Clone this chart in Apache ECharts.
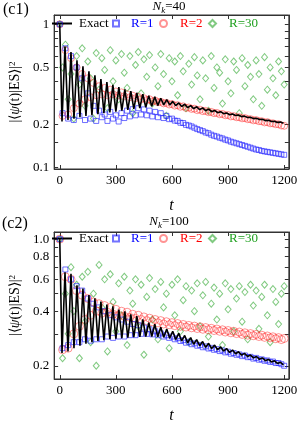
<!DOCTYPE html>
<html><head><meta charset="utf-8">
<script src="https://cdn.jsdelivr.net/npm/echarts@6/dist/echarts.min.js"></script>
<style>html,body{margin:0;padding:0;background:#fff}#c{width:300px;height:425px}</style>
</head><body><div id="c"></div>
<script>
// ---------- data ----------
const tScatter = [0,15,30,45,60,75,90,105,120,135,150,165,180,195,210,225,240,255,270,285,
  300,315,330,345,360,375,390,405,420,435,450,465,480,495,510,525,540,555,570,585,
  600,615,630,645,660,675,690,705,720,735,750,765,780,795,810,825,840,855,870,885,
  900,915,930,945,960,975,990,1005,1020,1035,1050,1065,1080,1095,1110,1125,1140,1155,1170,1185,1200];

const tExact = [0,12,28,44,60,76,92,108,124,140,156,172,188,204,220,236,252,268,284,300,
  316,332,348,364,380,396,412,428,444,460,476,492,508,524,540,556,572,588,604,620,
  636,652,668,684,700,716,732,748,764,780,796,812,828,844,860,876,892,908,924,940,
  956,972,988,1004,1020,1036,1052,1068,1084,1100,1116,1132,1148,1164,1180,1196];

// panel c1 (N_k = 40)
const exactC1 = [1.0,0.21,0.70,0.215,0.64,0.22,0.56,0.225,0.51,0.23,0.47,0.232,0.44,0.236,0.415,0.24,0.395,0.243,0.378,0.246,
  0.365,0.25,0.352,0.253,0.342,0.257,0.333,0.26,0.325,0.264,0.318,0.268,0.312,0.271,0.305,0.274,0.298,0.274,0.29,0.271,
  0.283,0.267,0.277,0.262,0.271,0.258,0.266,0.254,0.261,0.25,0.256,0.246,0.251,0.242,0.246,0.238,0.241,0.234,0.237,0.231,
  0.233,0.227,0.229,0.224,0.225,0.22,0.221,0.217,0.218,0.213,0.214,0.21,0.211,0.207,0.208,0.204];
const r1C1 = [1.0,0.24,0.68,0.22,0.6,0.215,0.5,0.23,0.42,0.215,0.33,0.22,0.27,0.212,0.25,0.225,0.235,0.212,0.245,0.22,
  0.232,0.21,0.24,0.222,0.25,0.228,0.256,0.232,0.26,0.235,0.255,0.232,0.25,0.228,0.245,0.225,0.24,0.222,0.23,0.218,
  0.22,0.213,0.212,0.206,0.205,0.199,0.197,0.194,0.19,0.186,0.183,0.18,0.176,0.174,0.17,0.167,0.165,0.162,0.16,0.157,
  0.155,0.152,0.15,0.148,0.146,0.144,0.142,0.14,0.138,0.136,0.134,0.133,0.131,0.13,0.129,0.128,0.127,0.126,0.125,0.124,0.123];
const r2C1 = [1.0,0.23,0.66,0.235,0.58,0.26,0.5,0.28,0.45,0.3,0.42,0.31,0.39,0.32,0.37,0.325,0.36,0.32,0.35,0.325,
  0.34,0.32,0.335,0.315,0.325,0.31,0.318,0.305,0.312,0.3,0.305,0.296,0.3,0.29,0.294,0.286,0.288,0.281,0.283,0.276,
  0.278,0.271,0.273,0.266,0.268,0.261,0.263,0.257,0.258,0.252,0.254,0.248,0.249,0.244,0.245,0.24,0.241,0.236,0.237,0.232,
  0.233,0.228,0.229,0.225,0.225,0.221,0.222,0.218,0.218,0.214,0.215,0.211,0.211,0.207,0.208,0.204,0.204,0.201,0.201,0.197,0.196];
const r30C1 = [1.0,0.5,0.72,0.3,0.45,0.22,0.6,0.38,0.68,0.27,0.55,0.42,0.22,0.63,0.35,0.58,0.48,0.26,0.66,0.4,
  0.56,0.3,0.62,0.46,0.36,0.6,0.24,0.52,0.64,0.33,0.57,0.43,0.61,0.28,0.5,0.37,0.62,0.45,0.23,0.58,
  0.4,0.55,0.32,0.6,0.47,0.26,0.53,0.38,0.59,0.44,0.3,0.56,0.42,0.25,0.6,0.36,0.5,0.46,0.28,0.57,
  0.4,0.33,0.55,0.48,0.24,0.58,0.37,0.52,0.43,0.3,0.56,0.45,0.27,0.59,0.35,0.5,0.42,0.32,0.55,0.47,0.38];

// panel c2 (N_k = 100)
const exactC2 = [1.0,0.235,0.656,0.24,0.643,0.25,0.556,0.258,0.534,0.265,0.491,0.27,0.472,0.274,0.452,0.277,0.435,0.28,0.426,0.282,
  0.409,0.284,0.4,0.286,0.384,0.288,0.376,0.289,0.361,0.29,0.346,0.29,0.339,0.289,0.326,0.287,0.319,0.284,0.31,0.279,
  0.302,0.274,0.294,0.268,0.286,0.263,0.279,0.258,0.272,0.253,0.266,0.249,0.26,0.245,0.254,0.241,0.249,0.237,0.244,0.233,
  0.239,0.229,0.234,0.225,0.229,0.221,0.225,0.217,0.221,0.213,0.217,0.21,0.213,0.206,0.209,0.202];
const r1C2 = [1.0,0.25,0.68,0.26,0.6,0.27,0.55,0.27,0.52,0.28,0.47,0.275,0.44,0.28,0.42,0.28,0.4,0.29,0.38,0.285,
  0.37,0.29,0.36,0.29,0.35,0.295,0.34,0.295,0.335,0.3,0.325,0.3,0.318,0.298,0.31,0.295,0.302,0.29,0.295,0.285,
  0.29,0.28,0.284,0.274,0.277,0.268,0.271,0.263,0.266,0.258,0.26,0.253,0.256,0.249,0.251,0.245,0.247,0.241,0.243,0.237,
  0.239,0.233,0.235,0.23,0.231,0.226,0.228,0.223,0.224,0.219,0.221,0.216,0.217,0.213,0.214,0.21,0.211,0.207,0.207,0.204,0.2];
const r2C2 = [1.0,0.245,0.62,0.25,0.6,0.3,0.52,0.33,0.49,0.36,0.47,0.38,0.45,0.4,0.44,0.39,0.43,0.395,0.42,0.385,
  0.41,0.38,0.4,0.375,0.395,0.37,0.385,0.365,0.38,0.36,0.372,0.355,0.366,0.35,0.36,0.345,0.355,0.34,0.35,0.337,
  0.346,0.333,0.342,0.33,0.338,0.327,0.334,0.324,0.331,0.321,0.328,0.318,0.325,0.316,0.322,0.313,0.319,0.31,0.316,0.307,
  0.313,0.304,0.31,0.301,0.307,0.298,0.304,0.295,0.301,0.293,0.298,0.29,0.295,0.287,0.292,0.285,0.289,0.282,0.286,0.279,0.283];
const r30C2 = [1.0,0.22,0.5,0.3,0.7,0.4,0.56,0.22,0.62,0.35,0.66,0.27,0.5,0.2,0.72,0.42,0.6,0.24,0.64,0.45,
  0.31,0.57,0.38,0.62,0.26,0.52,0.44,0.6,0.33,0.56,0.23,0.48,0.61,0.36,0.53,0.28,0.58,0.42,0.5,0.25,
  0.56,0.38,0.6,0.31,0.46,0.55,0.27,0.52,0.4,0.57,0.33,0.49,0.58,0.29,0.44,0.54,0.36,0.5,0.26,0.57,
  0.41,0.53,0.31,0.47,0.55,0.35,0.51,0.28,0.56,0.43,0.52,0.32,0.48,0.56,0.38,0.27,0.53,0.45,0.34,0.5,0.55];

const xTicks = [0,300,600,900,1200];
const yTicksC1 = [0.1,0.15,0.2,0.3,0.4,0.5,0.6,0.7,0.8,0.9,1];
const yLabelsC1 = [0.1,0.2,0.5,1];
const yTicksC2 = [0.2,0.3,0.4,0.5,0.6,0.7,0.8,0.9,1.0];
const yLabelsC2 = [0.2,0.4,0.6,0.8,1.0];

// ---------- chart ----------
const FONT = 'Liberation Serif';
const BLUE = '#0000ff', RED = '#ff0000', GREEN = '#1fa01f';
const pairs = (ts, vs) => ts.map((t, i) => [t, vs[i]]);

function xAx(gi, pos) {
  return {
    type: 'value', gridIndex: gi, position: pos, min: -30, max: 1225,
    splitLine: { show: false },
    axisLine: { show: true, onZero: false, lineStyle: { color: '#333', width: 1 } },
    axisTick: { show: true, inside: true, length: 4, customValues: xTicks, lineStyle: { color: '#333' } },
    axisLabel: { show: pos === 'bottom', customValues: xTicks, margin: 5, fontFamily: FONT, fontSize: 13, color: '#000',
      formatter: v => String(v) },
    name: pos === 'bottom' ? 't' : '', nameLocation: 'middle', nameGap: 29,
    nameTextStyle: { fontFamily: FONT, fontStyle: 'italic', fontSize: 16, color: '#000' }
  };
}
function yAx(gi, pos, min, max, ticks, labels, fmt) {
  return {
    type: 'log', logBase: 10, gridIndex: gi, position: pos, min, max,
    splitLine: { show: false }, minorTick: { show: false },
    axisLine: { show: true, onZero: false, lineStyle: { color: '#333', width: 1 } },
    axisTick: { show: true, inside: true, length: 4, customValues: ticks, lineStyle: { color: '#333' } },
    axisLabel: { show: pos === 'left', customValues: labels, margin: 5, fontFamily: FONT, fontSize: 13, color: '#000', formatter: fmt },
    name: pos === 'left' ? '|⟨{i|ψ}(t)|ES⟩|{s|2}' : '', nameLocation: 'middle', nameGap: 26, nameRotate: 90,
    nameTextStyle: { fontFamily: FONT, fontSize: 14, color: '#000',
      rich: { i: { fontFamily: FONT, fontSize: 14, fontStyle: 'italic', color: '#000' },
              s: { fontFamily: FONT, fontSize: 9, verticalAlign: 'top', color: '#000' } } }
  };
}
function seriesFor(xi, yi, ex, r1, r2, r30, sz) {
  return [
    { name: 'R=30', type: 'scatter', xAxisIndex: xi, yAxisIndex: yi, data: pairs(tScatter, r30),
      symbol: 'diamond', symbolSize: [6, 7], z: 2,
      itemStyle: { color: 'rgba(0,0,0,0)', borderColor: 'rgba(30,160,30,0.7)', borderWidth: 1 } },
    { name: 'R=2', type: 'scatter', xAxisIndex: xi, yAxisIndex: yi, data: pairs(tScatter, r2),
      symbol: 'circle', symbolSize: sz, z: 3,
      itemStyle: { color: 'rgba(0,0,0,0)', borderColor: 'rgba(255,30,30,0.6)', borderWidth: 1 } },
    { name: 'R=1', type: 'scatter', xAxisIndex: xi, yAxisIndex: yi, data: pairs(tScatter, r1),
      symbol: 'rect', symbolSize: 5, z: 4,
      itemStyle: { color: 'rgba(0,0,0,0)', borderColor: 'rgba(20,20,255,0.75)', borderWidth: 1 } },
    { name: 'Exact', type: 'line', xAxisIndex: xi, yAxisIndex: yi, data: pairs(tExact, ex),
      symbol: 'none', z: 5, lineStyle: { color: '#000', width: 1.6 }, itemStyle: { color: '#000' } }
  ];
}
function legends(top) {
  const mk = (item, left, w, h, color, padL) => ({
    data: [item], left, top, itemWidth: w, itemHeight: h, padding: 0, selectedMode: false,
    textStyle: { color, fontFamily: FONT, fontSize: 13, padding: [0, 0, 0, padL] }
  });
  return [
    mk({ name: 'Exact', icon: 'rect' }, 52, 20, 2, '#000', 2),
    mk('R=1', 112, 6, 6, BLUE, 7),
    mk('R=2', 159, 7, 7, RED, 8),
    mk('R=30', 208, 7, 7, GREEN, 8)
  ];
}
const sub = (txt, x, y) => ({
  type: 'text', x, y, style: {
    text: '{i|N}{s|k}{r|' + txt + '}', align: 'center', verticalAlign: 'middle',
    rich: { i: { fontFamily: FONT, fontSize: 13, fontStyle: 'italic', fill: '#000' },
            s: { fontFamily: FONT, fontSize: 9, fontStyle: 'italic', fill: '#000', padding: [7, 0, 0, 0] },
            r: { fontFamily: FONT, fontSize: 13, fill: '#000' } }
  }
});

const chart = echarts.init(document.getElementById('c'), null, { renderer: 'canvas' });
chart.setOption({
  animation: false,
  backgroundColor: '#fff',
  grid: [
    { left: 45, top: 15, width: 248, height: 154, show: true, borderColor: '#333', borderWidth: 1, backgroundColor: 'transparent' },
    { left: 45, top: 232, width: 248, height: 151, show: true, borderColor: '#333', borderWidth: 1, backgroundColor: 'transparent' }
  ],
  xAxis: [xAx(0, 'bottom'), xAx(0, 'top'), xAx(1, 'bottom'), xAx(1, 'top')],
  yAxis: [
    yAx(0, 'left', 0.098, 1.16, yTicksC1, yLabelsC1, v => String(+(+v).toPrecision(3))),
    yAx(0, 'right', 0.098, 1.16, yTicksC1, yLabelsC1, null),
    yAx(1, 'left', 0.169, 1.095, yTicksC2, yLabelsC2, v => (+v).toFixed(1)),
    yAx(1, 'right', 0.169, 1.095, yTicksC2, yLabelsC2, null)
  ],
  legend: legends(17).concat(legends(232)),
  graphic: [
    { type: 'text', x: 3, y: 10, style: { text: '(c1)', fontFamily: FONT, fontSize: 16, fill: '#000', verticalAlign: 'middle' } },
    { type: 'text', x: 2, y: 224, style: { text: '(c2)', fontFamily: FONT, fontSize: 16, fill: '#000', verticalAlign: 'middle' } },
    sub('=40', 169, 7),
    sub('=100', 169, 222)
  ],
  series: seriesFor(0, 0, exactC1, r1C1, r2C1, r30C1, 7).concat(seriesFor(2, 2, exactC2, r1C2, r2C2, r30C2, 8))
});
</script>
</body></html>
